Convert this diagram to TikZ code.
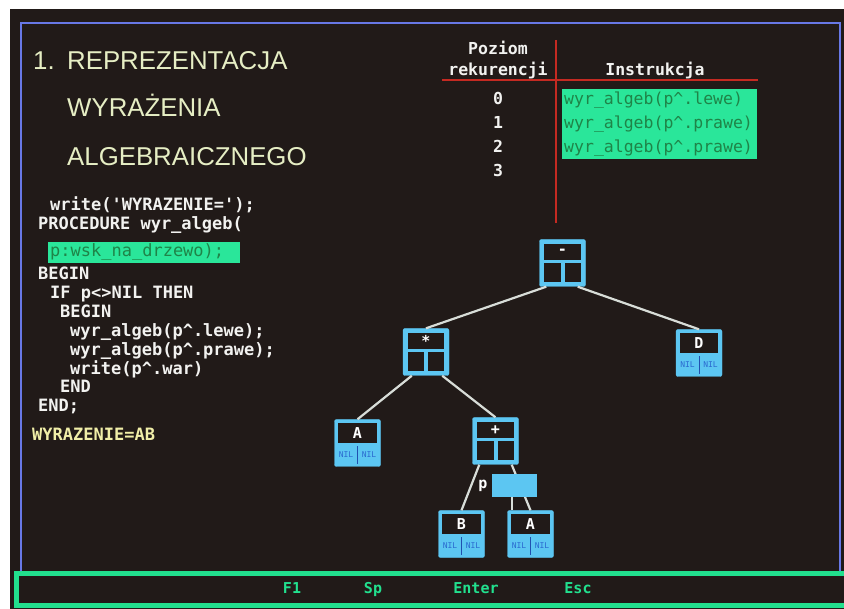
\documentclass[tikz,border=0pt]{standalone}
\usepackage{fontspec}
\setmainfont{Liberation Sans}
\newfontfamily\codefont{DejaVu Sans Mono}
\usetikzlibrary{calc}
\definecolor{scr}{HTML}{211A18}
\definecolor{frameblue}{HTML}{6878E6}
\definecolor{nodeblue}{HTML}{5CC6F2}
\definecolor{edgecol}{HTML}{D8DDD8}
\definecolor{hlgreen}{HTML}{2AE69A}
\definecolor{hltext}{HTML}{1F8448}
\definecolor{barg}{HTML}{22E08E}
\definecolor{redl}{HTML}{C42A22}
\definecolor{titley}{HTML}{E6EEC4}
\definecolor{codew}{HTML}{F2F2F0}
\definecolor{ansy}{HTML}{F0EEA8}
\definecolor{nilblue}{HTML}{2A6AD0}
\definecolor{divblue}{HTML}{2050B0}
\newcommand\intnode[4]{%
  \node[nbox] (#1) at (#2,#3) {};
  \fill[scr] ($(#1.north west)+(5,5)$) rectangle ($(#1.north east)+(-5,21)$);
  \fill[scr] ($(#1.north west)+(5,24)$) rectangle ($(#1.south)+(-2,-5)$);
  \fill[scr] ($(#1.north)+(2,24)$) rectangle ($(#1.south east)+(-5,-5)$);
  \node[lbl] (#1-l) at ($(#1.north)+(0,13)$) {#4};
}
\newcommand\leafnode[4]{%
  \node[nbox] (#1) at (#2,#3) {};
  \fill[scr] ($(#1.north west)+(4,4)$) rectangle ($(#1.north east)+(-4,24)$);
  \draw[divblue,line width=0.8pt] ($(#1.north)+(0,27)$) -- ($(#1.south)+(0,-3)$);
  \node[lbl] (#1-l) at ($(#1.north)+(0,14)$) {#4};
  \node[nil] (#1-n1) at ($(#1.north)+(-11.5,35.5)$) {NIL};
  \node[nil] (#1-n2) at ($(#1.north)+(11.5,35.5)$) {NIL};
}
\begin{document}
\begin{tikzpicture}[x=1pt,y=-1pt,
  title/.style={anchor=base west,inner sep=0,text=titley,font=\fontsize{25.8}{30}\selectfont},
  code/.style={anchor=base west,inner sep=0,text=codew,font=\codefont\bfseries\fontsize{17}{20}\selectfont},
  head/.style={anchor=base,inner sep=0,text=codew,font=\codefont\bfseries\fontsize{16.5}{20}\selectfont},
  instr/.style={anchor=base west,inner sep=0,text=hltext,font=\codefont\fontsize{16.5}{20}\selectfont},
  foot/.style={anchor=base,inner sep=0,text=barg,font=\codefont\bfseries\fontsize{15}{18}\selectfont},
  nbox/.style={rectangle,fill=nodeblue,draw=nodeblue,rounded corners=2pt,minimum width=46pt,minimum height=47pt,inner sep=0pt},
  lbl/.style={inner sep=0pt,text=white,font=\codefont\bfseries\fontsize{15}{16}\selectfont},
  nil/.style={inner sep=0pt,text=nilblue,font=\codefont\fontsize{8}{9}\selectfont},
  edge/.style={draw=edgecol,line width=2.2pt},
]
\useasboundingbox (0,0) rectangle (844,609);
\fill[white] (0,0) rectangle (844,609);
\fill[scr] (10,9) rectangle (844,609);
% blue frame
\draw[frameblue,line width=2.5pt] (21,23) rectangle (840,576);
% bottom bar
\fill[scr] (16,573) rectangle (842,605);
\draw[barg,line width=5pt] (16,573) rectangle (846,605);
% title
\node[title] (t0) at (33,70) {1.};
\node[title] (t1) at (67,70) {REPREZENTACJA};
\node[title] (t2) at (67,117) {WYRAŻENIA};
\node[title] (t3) at (67,166) {ALGEBRAICZNEGO};
% table
\draw[redl,line width=2.5pt] (442,80) -- (758,80);
\draw[redl,line width=2.5pt] (556,40) -- (556,223);
\node[head] (h1) at (498,55) {Poziom};
\node[head] (h2) at (498,76) {rekurencji};
\node[head] (h3) at (655,76) {Instrukcja};
\fill[hlgreen] (562,89) rectangle (757,159);
\node[head] (r0) at (498,105) {0};
\node[head] (r1) at (498,129) {1};
\node[head] (r2) at (498,153) {2};
\node[head] (r3) at (498,177) {3};
\node[instr] (i0) at (564,105) {wyr\_algeb(p\^{}.lewe)};
\node[instr] (i1) at (564,129) {wyr\_algeb(p\^{}.prawe)};
\node[instr] (i2) at (564,153) {wyr\_algeb(p\^{}.prawe)};
% code
\fill[hlgreen] (48,242) rectangle (240,263);
\node[code] (c1) at (50,211) {write('WYRAZENIE=');};
\node[code] (c2) at (38,230) {PROCEDURE wyr\_algeb(};
\node[code,text=hltext,font=\codefont\fontsize{17}{20}\selectfont] (c3) at (50,257) {p:wsk\_na\_drzewo);};
\node[code] (c4) at (38,280) {BEGIN};
\node[code] (c5) at (50,299) {IF p<>NIL THEN};
\node[code] (c6) at (60,318) {BEGIN};
\node[code] (c7) at (70,337) {wyr\_algeb(p\^{}.lewe);};
\node[code] (c8) at (70,356) {wyr\_algeb(p\^{}.prawe);};
\node[code] (c9) at (70,375) {write(p\^{}.war)};
\node[code] (c10) at (60,393) {END};
\node[code] (c11) at (38,412) {END;};
\node[code,text=ansy] (c12) at (32,441) {WYRAZENIE=AB};
% tree
\intnode{root}{562.5}{263}{-}
\intnode{star}{426}{352}{*}
\leafnode{d}{699}{353}{D}
\leafnode{aone}{357.5}{443}{A}
\intnode{plus}{495.5}{441}{+}
\leafnode{b}{461.5}{534}{B}
\leafnode{atwo}{530.5}{534}{A}
\draw[edge] ($(root.south west)+(7,0)$) -- (star.north);
\draw[edge] ($(root.south east)+(-8,0)$) -- (d.north);
\draw[edge] ($(star.south west)+(9,0)$) -- (aone.north);
\draw[edge] ($(star.south east)+(-7,0)$) -- (plus.north);
\draw[edge] ($(plus.south west)+(7,0)$) -- (b.north);
\draw[edge] ($(plus.south east)+(-7,0)$) -- (atwo.north);
\node[rectangle,fill=nodeblue,minimum width=45pt,minimum height=23pt,inner sep=0pt] (pbox) at (514.5,485.5) {};
\node[lbl] (plbl) at (483,486) {p};
\draw[edge] ($(pbox.south west)+(20,0)$) coordinate (pp) -- (pp |- atwo.north);
% footer
\node[foot] (f1) at (292,593) {F1};
\node[foot] (f2) at (373,593) {Sp};
\node[foot] (f3) at (476,593) {Enter};
\node[foot] (f4) at (578,593) {Esc};
\end{tikzpicture}
\end{document}
